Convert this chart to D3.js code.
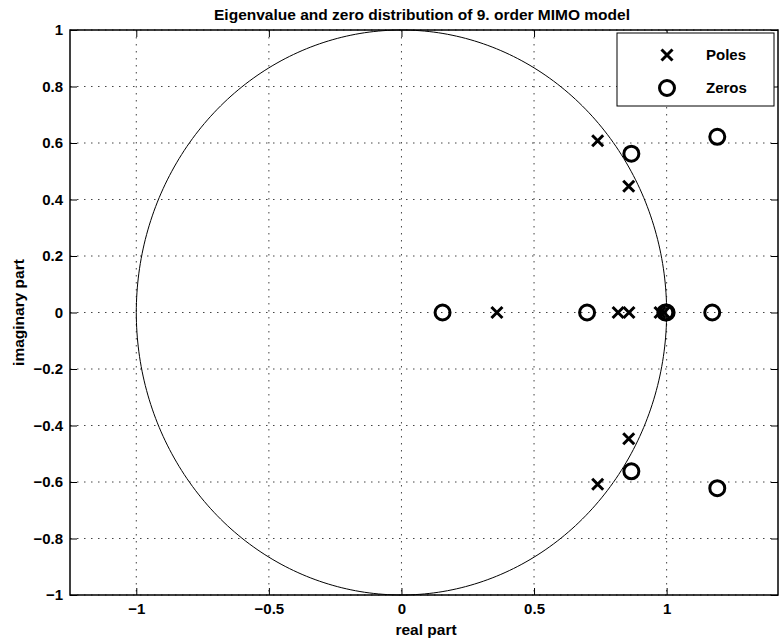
<!DOCTYPE html>
<html>
<head>
<meta charset="utf-8">
<script src="https://cdn.jsdelivr.net/npm/d3@7"></script>
<style>
  html, body { margin: 0; padding: 0; background: #fff; }
  svg text { font-family: "Liberation Sans", Arial, Helvetica, sans-serif; font-weight: bold; fill: #000; }
</style>
</head>
<body>
<svg id="chart" width="780" height="640"></svg>
<script>
// Poles (eigenvalues) of the 9th-order MIMO model
const poleRe = [0.74, 0.74, 0.857, 0.857, 0.36, 0.817, 0.858, 0.975, 0.99];
const poleIm = [0.608, -0.608, 0.447, -0.447, 0, 0, 0, 0, 0];
// Transmission zeros
const zeroRe = [0.155, 0.70, 0.995, 1.0, 1.172, 0.867, 0.867, 1.191, 1.191];
const zeroIm = [0, 0, 0, 0, 0, 0.562, -0.562, 0.622, -0.622];

const xTicks = [-1, -0.5, 0, 0.5, 1];
const yTicks = [-1, -0.8, -0.6, -0.4, -0.2, 0, 0.2, 0.4, 0.6, 0.8, 1];
const legendLabels = ["Poles", "Zeros"];

const W = 780, H = 640;
const m = { left: 70, right: 2, top: 30, bottom: 45 };
const svg = d3.select("#chart");

const x = d3.scaleLinear().domain([-1.25, 1.42]).range([m.left, W - m.right]);
const y = d3.scaleLinear().domain([-1, 1]).range([H - m.bottom, m.top]);
const x0 = x.range()[0], x1 = x.range()[1], y0 = y.range()[1], y1 = y.range()[0];

const fmt = d => (d < 0 ? "\u2212" : "") + String(Math.abs(d));
const FS = 15;

// dotted grid
const grid = svg.append("g").attr("stroke", "#444").attr("stroke-width", 1)
  .attr("stroke-dasharray", "1.5,5.5");
grid.selectAll("line.gx").data(xTicks).join("line")
  .attr("x1", d => x(d)).attr("x2", d => x(d)).attr("y1", y0).attr("y2", y1);
grid.selectAll("line.gy").data(yTicks).join("line")
  .attr("y1", d => y(d)).attr("y2", d => y(d)).attr("x1", x0).attr("x2", x1);

// unit circle
const circ = d3.range(0, 361, 1).map(a => [Math.cos(a * Math.PI / 180), Math.sin(a * Math.PI / 180)]);
svg.append("path")
  .attr("d", d3.line().x(d => x(d[0])).y(d => y(d[1]))(circ))
  .attr("fill", "none").attr("stroke", "#000").attr("stroke-width", 1);

// axes (ticks pointing inward, on all four sides)
const tl = 7;
const axB = svg.append("g").attr("transform", `translate(0,${y1})`)
  .call(d3.axisBottom(x).tickValues(xTicks).tickSizeInner(-tl).tickSizeOuter(0).tickPadding(8).tickFormat(fmt));
const axT = svg.append("g").attr("transform", `translate(0,${y0})`)
  .call(d3.axisTop(x).tickValues(xTicks).tickSizeInner(-tl).tickSizeOuter(0).tickFormat(""));
const axL = svg.append("g").attr("transform", `translate(${x0},0)`)
  .call(d3.axisLeft(y).tickValues(yTicks).tickSizeInner(-tl).tickSizeOuter(0).tickPadding(7).tickFormat(fmt));
const axR = svg.append("g").attr("transform", `translate(${x1},0)`)
  .call(d3.axisRight(y).tickValues(yTicks).tickSizeInner(-tl).tickSizeOuter(0).tickFormat(""));
[axB, axT, axL, axR].forEach(a => {
  a.select(".domain").remove();
  a.selectAll(".tick line").attr("stroke", "#000").attr("stroke-width", 1);
  a.selectAll("text").attr("font-size", FS).attr("font-family", null);
});
svg.append("rect").attr("x", x0).attr("y", y0).attr("width", x1 - x0).attr("height", y1 - y0)
  .attr("fill", "none").attr("stroke", "#000").attr("stroke-width", 1.5);

// markers
const xMark = (g, s) => g.append("path")
  .attr("d", `M${-s},${-s}L${s},${s}M${-s},${s}L${s},${-s}`)
  .attr("stroke", "#000").attr("stroke-width", 3).attr("fill", "none");
const oMark = (g, r) => g.append("circle").attr("r", r)
  .attr("stroke", "#000").attr("stroke-width", 3).attr("fill", "none");

const poles = poleRe.map((re, i) => ({ re, im: poleIm[i] }));
const zeros = zeroRe.map((re, i) => ({ re, im: zeroIm[i] }));

svg.append("g").selectAll("g").data(poles).join("g")
  .attr("transform", d => `translate(${x(d.re)},${y(d.im)})`)
  .each(function () { xMark(d3.select(this), 5.5); });
svg.append("g").selectAll("g").data(zeros).join("g")
  .attr("transform", d => `translate(${x(d.re)},${y(d.im)})`)
  .each(function () { oMark(d3.select(this), 7.5); });

// legend
const lg = svg.append("g").attr("transform", "translate(617,33)");
lg.append("rect").attr("width", 157).attr("height", 73)
  .attr("fill", "#fff").attr("stroke", "#000").attr("stroke-width", 1);
xMark(lg.append("g").attr("transform", "translate(50,22)"), 5.5);
oMark(lg.append("g").attr("transform", "translate(50,55)"), 7.5);
lg.selectAll("text.lab").data(legendLabels).join("text")
  .attr("x", 89).attr("y", (d, i) => 22 + i * 33).attr("dy", "0.36em")
  .attr("font-size", FS).text(d => d);

// titles
svg.append("text").attr("x", 422).attr("y", 20).attr("text-anchor", "middle")
  .attr("font-size", 15.5).text("Eigenvalue and zero distribution of 9. order MIMO model");
svg.append("text").attr("x", 426).attr("y", 635).attr("text-anchor", "middle")
  .attr("font-size", 15.5).text("real part");
svg.append("text").attr("transform", `translate(24,${(y0 + y1) / 2}) rotate(-90)`)
  .attr("text-anchor", "middle").attr("font-size", 15.5).text("imaginary part");
</script>
</body>
</html>
